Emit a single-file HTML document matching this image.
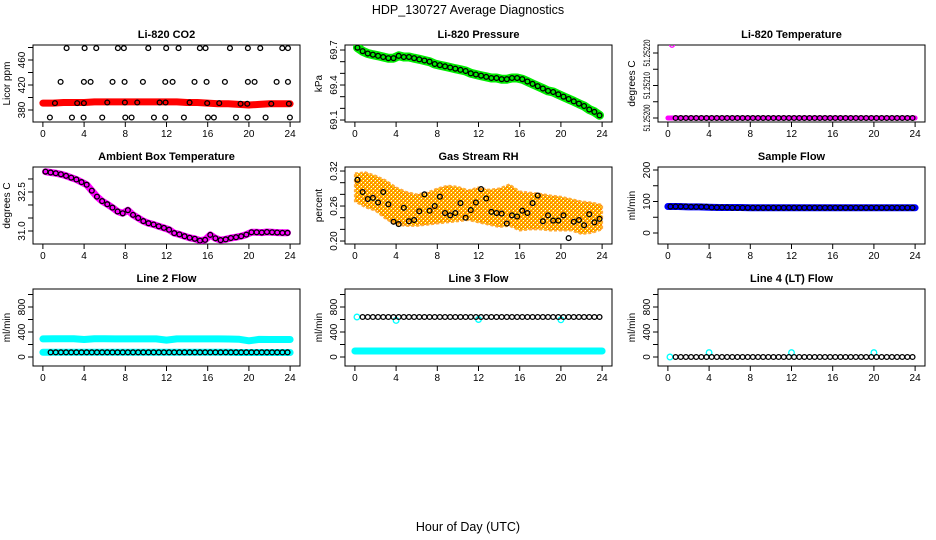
<!DOCTYPE html>
<html><head><meta charset="utf-8"><title>HDP_130727 Average Diagnostics</title>
<style>
html,body{margin:0;padding:0;background:#fff;}
svg{display:block;font-family:"Liberation Sans",Arial,sans-serif;}
</style></head>
<body>
<svg id="chart" width="936" height="540" viewBox="0 0 936 540">
<defs>
<pattern id="rhpat" width="4" height="4" patternUnits="userSpaceOnUse">
<rect width="4" height="4" fill="#ffcc00"/>
<rect x="0" y="0" width="2" height="2" fill="#ff8800"/>
<rect x="2" y="2" width="2" height="2" fill="#ff8800"/>
<rect x="3" y="0" width="1" height="1" fill="#ffffff"/>
<rect x="1" y="2" width="1" height="1" fill="#ffffff"/>
</pattern>
</defs>
<text x="468" y="14" text-anchor="middle" font-size="12.5">HDP_130727  Average Diagnostics</text>
<text x="468" y="531" text-anchor="middle" font-size="12.5">Hour of Day (UTC)</text>
</svg>
<script>
// ---------- data ----------
const xTicks = [0,4,8,12,16,20,24];
const halfHours = Array.from({length:48},(_, i)=>0.25+0.5*i);
const hours = Array.from({length:25},(_, i)=>i);

const co2Hours = [0.68,2.82,3.95,5.76,8.0,8.61,10.78,11.88,13.69,16.02,16.6,18.74,19.87,21.62,23.98,
 1.17,3.33,3.98,6.25,7.96,9.16,11.33,11.91,14.24,15.95,17.12,19.19,19.84,22.17,23.88,
 1.72,3.98,4.63,6.76,7.93,9.71,11.88,12.59,14.72,15.89,17.67,19.9,20.55,22.69,23.79,
 2.3,4.05,5.18,7.28,7.86,10.23,11.97,13.17,15.24,15.79,18.16,19.9,21.1,23.24,23.79];
const co2Avg = [368,368,368,368,368,368,368,368,368,368,368,368,368,368,368,
 391,391,391,392,392,392,392,392,392,391,391,390,390,390,390,
 425,425,425,425,425,425,425,425,425,425,425,425,425,425,425,
 479,479,479,479,479,479,479,479,479,479,479,479,479,479,479];
const co2Raw = [391,391,392,392,392,393,393,393,393,393,393,393,393,393,392,392,391,390,390,389,388,389,390,390,390];

const pressureAvg = [69.72,69.69,69.67,69.66,69.65,69.64,69.63,69.63,69.65,69.64,69.64,69.63,69.62,69.61,69.60,69.58,
 69.57,69.56,69.55,69.54,69.53,69.52,69.50,69.49,69.48,69.47,69.46,69.46,69.45,69.45,69.46,69.46,
 69.45,69.43,69.41,69.39,69.37,69.35,69.34,69.32,69.30,69.28,69.26,69.24,69.22,69.19,69.17,69.14];

const licorTempRaw = [51.25200,51.25200,51.25200,51.25200,51.25200,51.25200,51.25200,51.25200,51.25200,51.25200,51.25200,51.25200,51.25200,51.25200,51.25200,51.25200,51.25200,51.25200,51.25200,51.25200,51.25200,51.25200,51.25200,51.25200,51.25200];
const licorTempOutlierHour = [0.4];
const licorTempOutlierVal = [51.252225];
const licorTempAvg = Array(48).fill(51.25200);

const ambientAvg = [33.28,33.25,33.22,33.18,33.12,33.05,32.98,32.88,32.78,32.55,32.32,32.15,32.03,31.9,31.75,31.68,
 31.8,31.62,31.5,31.38,31.3,31.25,31.18,31.12,31.05,30.92,30.87,30.8,30.74,30.7,30.63,30.66,
 30.85,30.72,30.65,30.68,30.73,30.76,30.8,30.86,30.95,30.95,30.94,30.96,30.95,30.94,30.93,30.93];

const rhAvg = [0.305,0.284,0.272,0.274,0.266,0.284,0.263,0.233,0.229,0.257,0.234,0.236,0.251,0.280,0.252,0.260,
 0.276,0.248,0.244,0.248,0.265,0.240,0.253,0.266,0.289,0.273,0.250,0.248,0.247,0.230,0.244,0.242,
 0.252,0.248,0.265,0.278,0.234,0.244,0.235,0.235,0.244,0.205,0.233,0.236,0.227,0.246,0.232,0.238];
const rhUpper = [0.316,0.318,0.312,0.304,0.292,0.284,0.280,0.283,0.290,0.295,0.293,0.287,0.292,0.288,0.290,0.297,0.285,0.283,0.281,0.278,0.276,0.272,0.268,0.266,0.262];
const rhLower = [0.268,0.258,0.252,0.238,0.228,0.226,0.226,0.228,0.230,0.232,0.234,0.236,0.232,0.228,0.224,0.226,0.218,0.220,0.220,0.218,0.218,0.218,0.212,0.214,0.220];

const sampleFlowRaw = [84,84,83,83,82,81,81,81,80,80,80,80,80,80,80,80,80,80,80,80,80,80,80,80,80];
const sampleFlowAvg = [84,84,84,84,83,83,83,83,81,81,81,81,80,80,80,80,80,80,80,80,80,80,80,80,80,80,80,80,80,80,80,80,80,80,80,80,80,80,80,80,80,80,80,80,80,80,80,80];

const line2High = [290,292,292,292,280,292,292,290,290,290,290,290,270,290,290,290,290,290,288,285,260,282,280,280,280];
const line2Low = [75,75,75,75,75,75,75,75,75,75,75,75,75,75,75,75,75,75,75,72,72,72,72,72,72];
const line2Avg = Array(48).fill(75);

const line3Low = [96,96,96,96,96,96,96,96,96,96,96,96,96,96,96,96,96,96,96,96,96,96,96,96,96];
const line3Avg = [640,640,640,640,640,640,640,640,640,640,640,640,640,640,640,640,640,640,640,640,640,640,640,640,640,640,640,640,640,640,640,640,640,640,640,640,640,640,640,640,640,640,640,640,640,640,640,640];
const line3SpikeHours = [0.2,4.0,12.0,20.0];
const line3SpikeVals = [640,585,600,595];

const line4Low = [0,0,0,0,0,0,0,0,0,0,0,0,0,0,0,0,0,0,0,0,0,0,0,0,0];
const line4Avg = Array(48).fill(0);
const line4SpikeHours = [0.2,4.0,12.0,20.0];
const line4SpikeVals = [0,70,70,70];

// ---------- drawing ----------
const NS = "http://www.w3.org/2000/svg";
const svg = document.getElementById("chart");
const colLeft = [33,345,658];
const rowTop = [45,167,289];
const BW = 267, BH = 77;

function mk(tag, attrs, parent){
  const e = document.createElementNS(NS, tag);
  for (const k in attrs) e.setAttribute(k, attrs[k]);
  (parent||svg).appendChild(e);
  return e;
}

function panel(col,row,title,ylab,ylim,yticks,ylabels,key,labLen){
  const g = mk("g",{});
  
  
  const x0 = colLeft[col], y0 = rowTop[row], y1 = y0+BH;
  const xs = h => x0 + (h+0.96)/25.92*BW;
  const ys = v => y1 - (v-ylim[0])/(ylim[1]-ylim[0])*BH;
  const box = mk("rect",{x:x0,y:y0,width:BW,height:BH,fill:"none",stroke:"#000","stroke-width":1},g);
  
  
  const t = mk("text",{x:x0+BW/2,y:y0-7,"text-anchor":"middle","font-size":"11","font-weight":"bold"},g);
  t.textContent = title;
  
  
  const yl = mk("text",{x:0,y:0,"text-anchor":"middle","font-size":"10",transform:`translate(${x0-23},${y0+BH/2}) rotate(-90)`},g);
  yl.textContent = ylab;
  
  
  const xa = mk("g",{},g);
  
  
  xTicks.forEach(v=>{
    mk("line",{x1:xs(v),x2:xs(v),y1:y1,y2:y1+5,stroke:"#000"},xa);
    const tl = mk("text",{x:xs(v),y:y1+15,"text-anchor":"middle","font-size":"10"},xa);
    tl.textContent = v;
    
    
  });
  const ya = mk("g",{},g);
  
  
  yticks.forEach(v=>{
    mk("line",{x1:x0-5,x2:x0,y1:ys(v),y2:ys(v),stroke:"#000"},ya);
  });
  ylabels.forEach(v=>{
    const attrs = {x:0,y:0,"text-anchor":"middle","font-size":"10",transform:`translate(${x0-8},${ys(v[0])}) rotate(-90)`};
    if (labLen) { attrs.textLength = labLen; attrs.lengthAdjust = "spacingAndGlyphs"; attrs["font-size"]="9"; }
    const tl = mk("text",attrs,ya);
    tl.textContent = v[1];
    
    
  });
  const clipId = "clip"+key;
  const cp = mk("clipPath",{id:clipId},g);
  mk("rect",{x:x0,y:y0,width:BW,height:BH},cp);
  const marks = mk("g",{"clip-path":`url(#${clipId})`},g);
  
  
  return {xs,ys,g:marks};
}

function band(p,xsArr,vals,color,w,name){
  const pts = xsArr.map((h,i)=>p.xs(h).toFixed(1)+","+p.ys(vals[i]).toFixed(1)).join(" ");
  const pl = mk("polyline",{points:pts,fill:"none",stroke:color,"stroke-width":w,"stroke-linejoin":"round","stroke-linecap":"round"},p.g);
  
  
}
function dots(p,xsArr,vals,color,name,r){
  xsArr.forEach((h,i)=>{
    const c = mk("circle",{cx:p.xs(h),cy:p.ys(vals[i]),r:r||2.4,fill:"none",stroke:color,"stroke-width":1.3},p.g);
    
    
  });
}

let p = panel(0,0,"Li-820 CO2","Licor ppm",[360.8,484],[380,400,420,440,460,480],[[380,"380"],[420,"420"],[460,"460"]],"co2");
band(p,hours,co2Raw,"#ff0000",7,"co2-raw-band");
dots(p,co2Hours,co2Avg,"#000","co2-avg-point");

p = panel(1,0,"Li-820 Pressure","kPa",[69.083,69.743],[69.1,69.2,69.3,69.4,69.5,69.6,69.7],[[69.1,"69.1"],[69.4,"69.4"],[69.7,"69.7"]],"pressure");
band(p,halfHours,pressureAvg,"#00ee00",9,"pressure-raw-band");
dots(p,halfHours,pressureAvg,"#000","pressure-avg-point");

p = panel(2,0,"Li-820 Temperature","degrees C",[51.2519877,51.2522246],[51.252,51.25205,51.2521,51.25215,51.2522],[[51.252,"51.25200"],[51.2521,"51.25210"],[51.2522,"51.25220"]],"licor-temp",27);
band(p,hours,licorTempRaw,"#ff00ff",5,"licor-temp-raw-band");
dots(p,licorTempOutlierHour,licorTempOutlierVal,"#ff00ff","licor-temp-outlier");
dots(p,halfHours.slice(1),licorTempAvg.slice(1),"#000","licor-temp-avg-point");

p = panel(0,1,"Ambient Box Temperature","degrees C",[30.5,33.46],[31,31.5,32,32.5,33],[[31,"31.0"],[32.5,"32.5"]],"ambient");
band(p,halfHours,ambientAvg,"#ff00ff",7,"ambient-raw-band");
dots(p,halfHours,ambientAvg,"#000","ambient-avg-point");

p = panel(1,1,"Gas Stream RH","percent",[0.1949,0.3269],[0.20,0.22,0.24,0.26,0.28,0.30,0.32],[[0.20,"0.20"],[0.26,"0.26"],[0.32,"0.32"]],"rh");
{
  const up = hours.map((h,i)=>p.xs(h).toFixed(1)+","+p.ys(rhUpper[i]).toFixed(1));
  const lo = hours.map((h,i)=>p.xs(h).toFixed(1)+","+p.ys(rhLower[i]).toFixed(1)).reverse();
  const poly = mk("polygon",{points:up.concat(lo).join(" "),fill:"url(#rhpat)",stroke:"#ffaa33","stroke-width":2,"stroke-linejoin":"round","stroke-dasharray":"3 2"},p.g);
  
  
}
dots(p,halfHours,rhAvg,"#000","rh-avg-point");

p = panel(2,1,"Sample Flow","ml/min",[-34.9,209.5],[0,50,100,150,200],[[0,"0"],[100,"100"],[200,"200"]],"sample-flow");
band(p,hours,sampleFlowRaw,"#0000ff",7,"sample-flow-raw-band");
dots(p,halfHours,sampleFlowAvg,"#000","sample-flow-avg-point");

const flowTicks = [0,200,400,600,800,1000];
const flowLabels = [[0,"0"],[400,"400"],[800,"800"]];
p = panel(0,2,"Line 2 Flow","ml/min",[-144,1088],flowTicks,flowLabels,"line2");
band(p,hours,line2High,"#00ffff",7,"line2-high-band");
band(p,hours,line2Low,"#00ffff",7,"line2-low-band");
dots(p,halfHours.slice(1),line2Avg.slice(1),"#000","line2-avg-point");

p = panel(1,2,"Line 3 Flow","ml/min",[-144,1088],flowTicks,flowLabels,"line3");
band(p,hours,line3Low,"#00ffff",7,"line3-low-band");
dots(p,line3SpikeHours,line3SpikeVals,"#00ffff","line3-spike-point",2.8);
dots(p,halfHours.slice(1),line3Avg.slice(1),"#000","line3-avg-point");

p = panel(2,2,"Line 4 (LT) Flow","ml/min",[-144,1088],flowTicks,flowLabels,"line4");
dots(p,line4SpikeHours,line4SpikeVals,"#00ffff","line4-spike-point",2.8);
dots(p,halfHours.slice(1),line4Avg.slice(1),"#000","line4-avg-point");
</script>
</body></html>
